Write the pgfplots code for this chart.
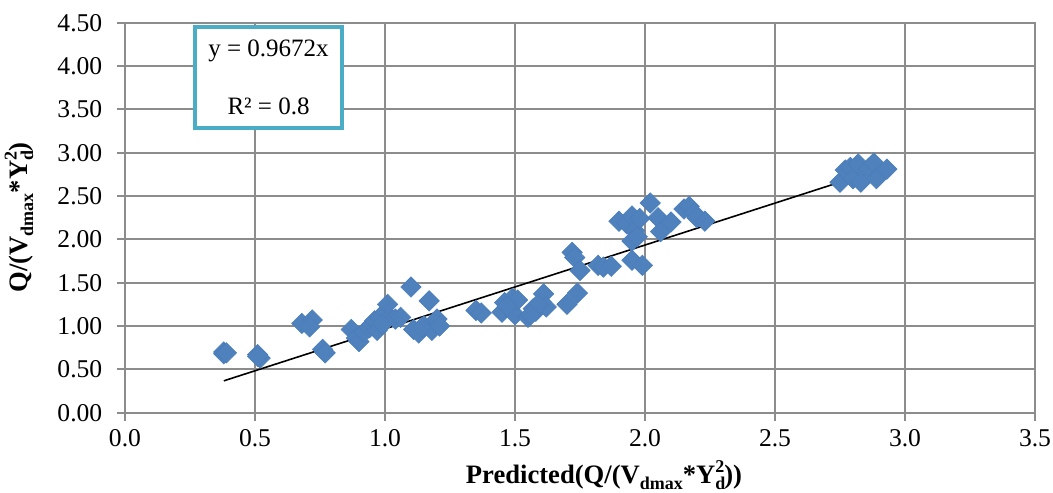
\documentclass[border=0pt]{standalone}
\usepackage{pgfplots}
\pgfplotsset{compat=1.18}
\usetikzlibrary{calc}
\usepackage{fontspec}
\setmainfont{Liberation Serif}
\definecolor{mk}{HTML}{4F81BD}
\definecolor{mkd}{HTML}{4A7EBB}
\definecolor{boxc}{HTML}{4BACC6}
\definecolor{gr}{HTML}{8C8C8C}
\newcommand{\sub}[1]{\raisebox{-0.45ex}{\fontsize{9pt}{10pt}\selectfont #1}}
\newcommand{\Yd}{Y\rlap{\sub{d}}\raisebox{0.9ex}{\fontsize{9pt}{10pt}\selectfont 2}}
\begin{document}
\fontsize{12.5pt}{15pt}\selectfont
\begin{tikzpicture}
\begin{axis}[name=ax,
  scale only axis, width=455pt, height=195pt,
  xmin=0, xmax=3.5, ymin=0, ymax=4.5,
  xtick={0,0.5,...,3.5}, ytick={0,0.5,...,4.5},
  grid=major, grid style={gr, line width=0.9pt},
  axis line style={gr, line width=0.9pt},
  tick style={gr, line width=0.9pt},
  tick align=center, major tick length=8pt,
  xtick pos=bottom, ytick pos=left,
  xticklabel style={/pgf/number format/.cd, fixed, fixed zerofill, precision=1},
  yticklabel style={xshift=-3pt, /pgf/number format/.cd, fixed, fixed zerofill, precision=2},
  /pgf/number format/assume math mode=true,
  ticklabel style={font=\fontsize{12.8pt}{15pt}\selectfont},
  xlabel={\textbf{Predicted(Q/(V\sub{dmax}*\Yd))}},
  ylabel={\textbf{Q/(V\sub{dmax}*\Yd)}},
  label style={font=\fontsize{13.3pt}{15pt}\selectfont},
  xlabel style={xshift=12pt, yshift=1.5pt},
  ylabel style={yshift=3.5pt},
  clip=false,
]
\addplot[only marks, mark=square*, mark size=3.6pt,
  mark options={rotate=45, fill=mk, draw=mkd, line width=0.3pt}] coordinates {
(0.38,0.70) (0.38,0.68) (0.39,0.69)
(0.51,0.67) (0.52,0.63) (0.51,0.65)
(0.68,1.03) (0.72,1.07) (0.71,0.99)
(0.76,0.73) (0.77,0.69)
(0.87,0.96) (0.89,0.86) (0.90,0.82) (0.92,0.93) (0.94,0.98) (0.95,1.02)
(0.96,1.06) (0.98,1.10) (1.00,1.16) (1.01,1.25) (0.97,0.95) (1.04,1.08)
(1.06,1.10) (0.99,1.02)
(1.10,1.45) (1.11,0.96) (1.13,0.92) (1.15,1.00) (1.17,1.29) (1.18,0.95)
(1.20,1.08) (1.21,1.00) (1.14,0.98)
(1.35,1.18) (1.37,1.15)
(1.45,1.16) (1.46,1.27) (1.48,1.20) (1.49,1.32) (1.50,1.13) (1.51,1.30) (1.47,1.23)
(1.55,1.10) (1.57,1.20) (1.58,1.17) (1.60,1.28) (1.61,1.37) (1.62,1.22) (1.59,1.25) (1.56,1.13)
(1.70,1.25) (1.74,1.38)
(1.72,1.85) (1.73,1.79) (1.75,1.64)
(1.82,1.70) (1.84,1.68) (1.87,1.69)
(1.90,2.21) (1.93,2.18) (1.95,2.27) (1.96,2.10) (1.95,1.98) (1.97,2.03)
(1.98,2.24) (2.02,2.42) (2.05,2.25) (2.06,2.09) (2.10,2.20) (2.15,2.35)
(2.17,2.38) (2.19,2.30) (2.20,2.25) (2.23,2.21) (1.95,1.76) (1.99,1.70)
(2.75,2.66) (2.77,2.80) (2.79,2.83) (2.80,2.70) (2.82,2.87) (2.83,2.66)
(2.86,2.82) (2.88,2.88) (2.89,2.70) (2.93,2.81)
};
\addplot[black, line width=0.8pt] coordinates {(0.38,0.3675) (2.93,2.834)};
\node[draw=boxc, line width=2pt, fill=white, minimum width=73.5pt, minimum height=50.5pt,
  align=center, inner sep=2pt] at (axis cs:0.552,3.866) {y = 0.9672x\\[14pt]R² = 0.8};
\end{axis}
\pgfresetboundingbox
\path ($(ax.south west)+(-62.5pt,-39.7pt)$) rectangle ($(ax.north east)+(9pt,11.35pt)$);
\end{tikzpicture}
\end{document}
